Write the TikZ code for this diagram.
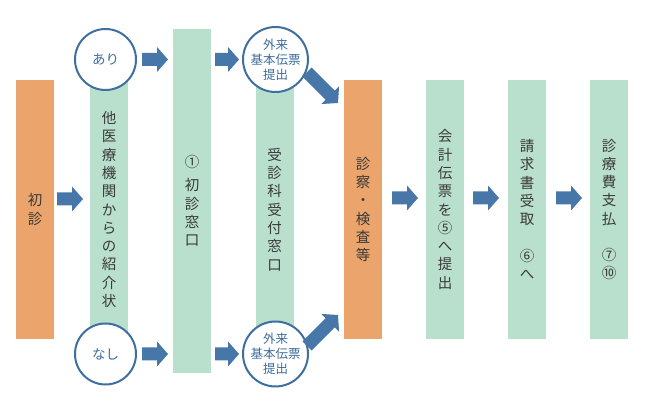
\documentclass[tikz,border=0pt]{standalone}
\usepackage{fontspec}
\setmainfont{Noto Sans CJK JP}
\usetikzlibrary{calc}
\definecolor{orangec}{HTML}{EBA46B}
\definecolor{greenc}{HTML}{B9DFCD}
\definecolor{arrowblue}{HTML}{4677A8}
\definecolor{circblue}{HTML}{3F6F9F}
\definecolor{circtext}{HTML}{3E6D9C}
\definecolor{textgray}{HTML}{3A3A3A}
\newcommand{\blockarrow}[2]{%
  \fill[arrowblue] let \p1=(#1), \p2=(#2),
    \n1={atan2(\y2-\y1,\x2-\x1)}, \n2={veclen(\x2-\x1,\y2-\y1)} in
    [shift={(\p1)}, rotate=\n1]
    (0pt,-6.5pt) -- ({\n2*1pt-11pt},-6.5pt) -- ({\n2*1pt-11pt},-12.5pt) --
    ({\n2*1pt},0pt) -- ({\n2*1pt-11pt},12.5pt) -- ({\n2*1pt-11pt},6.5pt) --
    (0pt,6.5pt) -- cycle;}
\begin{document}
\begin{tikzpicture}[x=1pt,y=-1pt,
  bar/.style={minimum width=38pt, inner sep=0pt, outer sep=0pt, align=center,
    text=textgray, font=\fontsize{14.5pt}{18.3pt}\selectfont},
  obar/.style={bar, fill=orangec},
  gbar/.style={bar, fill=greenc},
  circ/.style={circle, draw=circblue, line width=2pt, fill=white,
    minimum size=61pt, inner sep=0pt, align=center, text=circtext},
  small/.style={font=\fontsize{12.5pt}{15pt}\selectfont},
  mid/.style={font=\fontsize{13.5pt}{15pt}\selectfont}]
\useasboundingbox (0,0) rectangle (645,411);
% bars
\node[obar, minimum height=259pt] (shoshin) at (35,209.5) {初\\診};
\node[gbar, minimum height=259pt] (tai) at (109,209.5)
  {他\\医\\療\\機\\関\\か\\ら\\の\\紹\\介\\状};
\node[gbar, minimum height=344pt] (madoguchi) at (192,201)
  {①\\[5pt]初\\診\\窓\\口};
\node[gbar, minimum height=259pt] (jushin) at (274.5,209.5)
  {受\\診\\科\\受\\付\\窓\\口};
\node[obar, minimum height=259pt] (shinsatsu) at (363,209.5)
  {診\\察\\・\\検\\査\\等};
\node[gbar, minimum height=259pt] (kaikei) at (445,209.5)
  {会\\計\\伝\\票\\を\\⑤\\へ\\提\\出};
\node[gbar, minimum height=259pt] (seikyu) at (527,209.5)
  {請\\求\\書\\受\\取\\[18pt]⑥\\へ};
\node[gbar, minimum height=259pt] (shiharai) at (609,209.5)
  {診\\療\\費\\支\\払\\[18pt]⑦\\⑩};
% circles
\node[circ, mid] (ari) at (105.5,59.5) {あり};
\node[circ, mid] (nashi) at (105.5,354) {なし};
\node[circ, small] (gai1) at (275.5,59.5) {外来\\基本伝票\\提出};
\node[circ, small] (gai2) at (275.5,354) {外来\\基本伝票\\提出};
% arrows
\blockarrow{$(shoshin.east)+(3,-10.5)$}{$(tai.west)+(-7,-10.5)$}
\blockarrow{$(ari.east)+(5,0)$}{$(madoguchi.west |- ari)+(-5,0)$}
\blockarrow{$(madoguchi.east |- ari)+(4,0)$}{$(gai1.west)+(-3,0)$}
\blockarrow{$(nashi.east)+(5,0)$}{$(madoguchi.west |- nashi)+(-5,0)$}
\blockarrow{$(madoguchi.east |- nashi)+(4,0)$}{$(gai2.west)+(-3,0)$}
\blockarrow{$(gai1.center)+(31.5,12.5)$}{$(shinsatsu.north west)+(-6,23)$}
\blockarrow{$(gai2.center)+(31.5,-8)$}{$(shinsatsu.south west)+(-6,-24)$}
\blockarrow{$(shinsatsu.east)+(10,-11.5)$}{$(kaikei.west)+(-8,-11.5)$}
\blockarrow{$(kaikei.east)+(9,-11.5)$}{$(seikyu.west)+(-9,-11.5)$}
\blockarrow{$(seikyu.east)+(10,-11.5)$}{$(shiharai.west)+(-8,-11.5)$}
\end{tikzpicture}
\end{document}
